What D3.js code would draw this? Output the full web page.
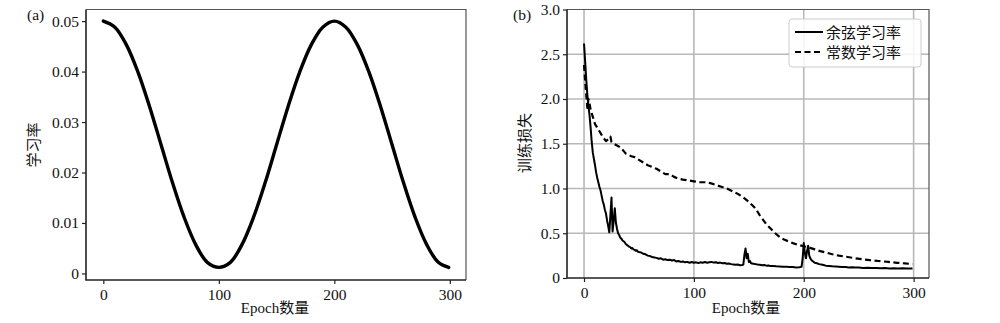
<!DOCTYPE html>
<html>
<head>
<meta charset="utf-8">
<script src="https://cdn.jsdelivr.net/npm/d3@7/dist/d3.min.js"></script>
<style>
  html, body { margin: 0; padding: 0; background: #fff; }
  svg text { fill: #111; }
  .num { font-family: "Liberation Serif", "DejaVu Serif", serif; font-size: 15.5px; }
  .cjk { font-family: "Liberation Serif", "Noto Sans CJK SC", serif; font-size: 15px; }
</style>
</head>
<body>
<svg id="fig" width="1000" height="323"></svg>
<script>
// ---- panel (a): cosine learning-rate schedule ----
const lrEpochs = [0,10,20,30,40,50,60,70,80,90,100,110,120,130,140,150,160,170,180,190,200,210,220,230,240,250,260,270,280,290,299];
const lrValues = [0.0500,0.0488,0.0453,0.0399,0.0331,0.0255,0.0179,0.0111,0.0057,0.0022,0.0012,0.0022,0.0057,0.0111,0.0179,0.0255,0.0331,0.0399,0.0453,0.0488,0.0500,0.0488,0.0453,0.0399,0.0331,0.0255,0.0179,0.0111,0.0057,0.0022,0.0012];
const lrTicksY = [0, 0.01, 0.02, 0.03, 0.04, 0.05];
const lrTickLabelsY = ["0", "0.01", "0.02", "0.03", "0.04", "0.05"];
const epochTicks = [0, 100, 200, 300];

// ---- panel (b): training loss ----
const cosEpochs = [0,1,2,3,4,5,6,7,8,9,10,11,12,13,14,15,16,17,18,19,20,21,22,23,24,25,26,27,28,29,30,31,32,33,34,35,36,37,38,39,
  40,41,42,43,44,45,46,47,48,49,50,52,54,56,58,60,62,64,66,68,70,72,74,76,78,80,82,84,86,88,90,92,94,96,98,
  100,102,104,106,108,110,112,114,116,118,120,122,124,126,128,130,132,134,136,138,140,142,144,145,146,147,148,149,150,151,152,154,156,158,
  160,162,164,166,168,170,172,175,178,181,184,187,190,193,196,198,199,200,201,202,203,204,205,206,207,208,
  210,212,214,216,218,220,223,226,229,232,235,238,241,244,247,250,254,258,262,266,270,274,278,282,286,290,294,299];
const cosLoss = [2.62,2.42,2.22,2.05,1.92,1.82,1.68,1.52,1.40,1.33,1.26,1.18,1.12,1.07,1.02,0.98,0.92,0.86,0.82,0.76,0.72,0.64,0.58,0.51,0.70,0.90,0.52,0.64,0.78,0.62,0.55,0.50,0.48,0.45,0.44,0.42,0.41,0.40,0.38,0.37,
  0.36,0.35,0.345,0.33,0.335,0.32,0.315,0.305,0.31,0.295,0.29,0.285,0.27,0.265,0.25,0.245,0.235,0.23,0.225,0.215,0.22,0.205,0.21,0.20,0.205,0.195,0.20,0.185,0.19,0.18,0.185,0.175,0.18,0.17,0.178,
  0.17,0.175,0.168,0.175,0.17,0.178,0.17,0.176,0.18,0.172,0.176,0.168,0.172,0.165,0.168,0.16,0.162,0.155,0.152,0.148,0.15,0.143,0.145,0.15,0.26,0.33,0.22,0.27,0.18,0.19,0.165,0.16,0.155,0.15,
  0.148,0.142,0.145,0.138,0.14,0.133,0.135,0.13,0.128,0.125,0.127,0.122,0.124,0.118,0.12,0.125,0.22,0.39,0.28,0.22,0.30,0.36,0.25,0.22,0.20,0.19,
  0.17,0.165,0.155,0.15,0.145,0.138,0.135,0.13,0.128,0.125,0.122,0.124,0.118,0.12,0.116,0.118,0.113,0.115,0.111,0.113,0.109,0.111,0.107,0.109,0.106,0.108,0.105,0.107];

const constEpochs = [0,1,2,3,4,5,6,7,8,9,10,12,14,16,18,20,22,24,25,27,30,33,36,38,40,43,46,50,54,58,62,66,70,74,78,82,86,90,95,100,105,110,115,120,125,130,135,140,145,150,155,158,160,163,166,170,174,178,182,186,190,195,200,205,210,215,220,226,232,240,247,253,260,268,277,285,292,299];
const constLoss = [2.38,2.20,2.05,1.90,2.00,1.95,1.88,1.84,1.80,1.76,1.72,1.68,1.64,1.60,1.56,1.53,1.55,1.58,1.52,1.50,1.48,1.46,1.42,1.39,1.38,1.36,1.35,1.32,1.29,1.26,1.24,1.22,1.19,1.16,1.16,1.13,1.11,1.10,1.09,1.08,1.07,1.07,1.06,1.04,1.02,1.00,0.97,0.94,0.90,0.85,0.79,0.74,0.70,0.65,0.60,0.55,0.50,0.46,0.43,0.41,0.39,0.37,0.355,0.34,0.32,0.30,0.285,0.265,0.25,0.235,0.22,0.21,0.20,0.19,0.18,0.17,0.163,0.156];

const lossTicksY = [0, 0.5, 1.0, 1.5, 2.0, 2.5, 3.0];
const lossTickLabelsY = ["0", "0.5", "1.0", "1.5", "2.0", "2.5", "3.0"];
const legendLabels = ["余弦学习率", "常数学习率"];

const svg = d3.select("#fig");

function frame(g, x0, x1, y0, y1) {
  // top/right spines, lighter
  g.append("path")
    .attr("d", `M${x0},${y0}H${x1}V${y1}`)
    .attr("fill", "none").attr("stroke", "#555").attr("stroke-width", 1.2);
  // left/bottom spines
  g.append("path")
    .attr("d", `M${x0},${y0}V${y1}H${x1}`)
    .attr("fill", "none").attr("stroke", "#222").attr("stroke-width", 1.6);
}

function axes(g, x, y, xTicks, yTicks, yLabels, yBottom, xLeft) {
  const ax = g.append("g").attr("transform", `translate(0,${yBottom})`)
    .call(d3.axisBottom(x).tickValues(xTicks).tickSize(4).tickPadding(3).tickFormat(d3.format("d")));
  const ay = g.append("g").attr("transform", `translate(${xLeft},0)`)
    .call(d3.axisLeft(y).tickValues(yTicks).tickSize(4).tickPadding(3).tickFormat((d, i) => yLabels[i]));
  [ax, ay].forEach(a => {
    a.select(".domain").remove();
    a.selectAll("line").attr("stroke", "#222").attr("stroke-width", 1.2);
    a.selectAll("text").attr("class", "num").attr("font-size", null).attr("font-family", null).attr("fill", "#111");
  });
  ax.selectAll("text").attr("dy", "0.85em");
}

// ===== panel (a) =====
{
  const L = 86, R = 466, T = 9.5, B = 280;
  const x = d3.scaleLinear().domain([-15, 314]).range([L, R]);
  const y = d3.scaleLinear().domain([-0.0013, 0.0523]).range([B, T]);
  const g = svg.append("g");

  const line = d3.line().x((d, i) => x(lrEpochs[i])).y(d => y(d)).curve(d3.curveCatmullRom.alpha(0.5));
  g.append("path").datum(lrValues).attr("d", line)
    .attr("fill", "none").attr("stroke", "#000").attr("stroke-width", 3.4)
    .attr("stroke-linecap", "round").attr("stroke-linejoin", "round");

  frame(g, L, R, T, B);
  axes(g, x, y, epochTicks, lrTicksY, lrTickLabelsY, B, L);

  g.append("text").attr("class", "num").attr("x", 27).attr("y", 20).text("(a)");
  g.append("text").attr("class", "cjk").attr("text-anchor", "middle")
    .attr("transform", `translate(39,145) rotate(-90)`).text("学习率");
  g.append("text").attr("class", "cjk").attr("text-anchor", "middle")
    .attr("x", 275).attr("y", 313).text("Epoch数量");
}

// ===== panel (b) =====
{
  const L = 567, R = 929, T = 9.5, B = 278;
  const x = d3.scaleLinear().domain([-15.5, 314]).range([L, R]);
  const y = d3.scaleLinear().domain([0, 3]).range([B, T]);
  const g = svg.append("g");

  // grid
  g.append("g").selectAll("line.vx").data(epochTicks).join("line")
    .attr("x1", d => x(d)).attr("x2", d => x(d)).attr("y1", T).attr("y2", B)
    .attr("stroke", "#b8b8b8").attr("stroke-width", 1.6);
  g.append("g").selectAll("line.hy").data(lossTicksY.slice(1, -1)).join("line")
    .attr("x1", L).attr("x2", R).attr("y1", d => y(d)).attr("y2", d => y(d))
    .attr("stroke", "#b8b8b8").attr("stroke-width", 1.6);

  const lineOf = xs => d3.line().x((d, i) => x(xs[i])).y(d => y(d));
  g.append("path").datum(constLoss).attr("d", lineOf(constEpochs))
    .attr("fill", "none").attr("stroke", "#000").attr("stroke-width", 2.2)
    .attr("stroke-dasharray", "6,3.5").attr("stroke-linejoin", "round");
  g.append("path").datum(cosLoss).attr("d", lineOf(cosEpochs))
    .attr("fill", "none").attr("stroke", "#000").attr("stroke-width", 2)
    .attr("stroke-linejoin", "round");

  frame(g, L, R, T, B);
  axes(g, x, y, epochTicks, lossTicksY, lossTickLabelsY, B, L);

  // legend
  const lg = g.append("g");
  lg.append("rect").attr("x", 789).attr("y", 19).attr("width", 132).attr("height", 48)
    .attr("rx", 3).attr("fill", "#fff").attr("fill-opacity", 0.85)
    .attr("stroke", "#ccc").attr("stroke-width", 1);
  const rows = [{ dash: null, yc: 32 }, { dash: "6,3.5", yc: 52 }];
  rows.forEach((r, i) => {
    lg.append("line").attr("x1", 795).attr("x2", 823).attr("y1", r.yc).attr("y2", r.yc)
      .attr("stroke", "#000").attr("stroke-width", i === 0 ? 2 : 2.2)
      .attr("stroke-dasharray", r.dash);
    lg.append("text").attr("class", "cjk").attr("x", 826).attr("y", r.yc + 5.5).text(legendLabels[i]);
  });

  g.append("text").attr("class", "num").attr("x", 513).attr("y", 20).text("(b)");
  g.append("text").attr("class", "cjk").attr("text-anchor", "middle")
    .attr("transform", `translate(530,143) rotate(-90)`).text("训练损失");
  g.append("text").attr("class", "cjk").attr("text-anchor", "middle")
    .attr("x", 746).attr("y", 313).text("Epoch数量");
}
</script>
</body>
</html>
